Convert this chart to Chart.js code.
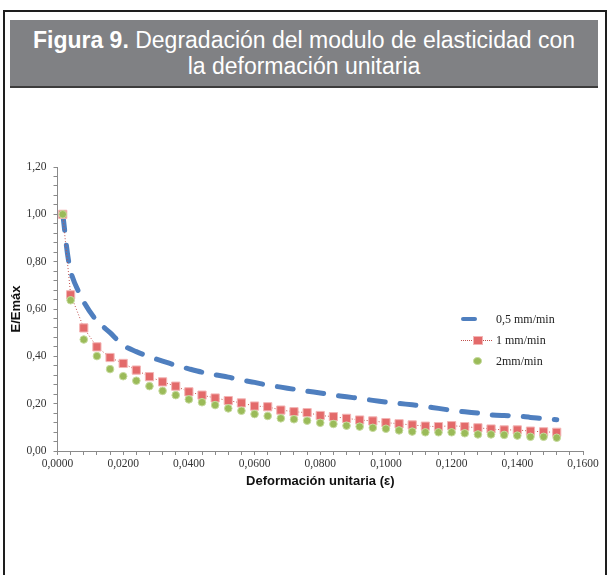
<!DOCTYPE html>
<html>
<head>
<meta charset="utf-8">
<script src="https://cdn.jsdelivr.net/npm/chart.js@4.4.1/dist/chart.umd.min.js"></script>
<style>
  body { margin: 0; background: #fff; }
  #frame { position: absolute; left: 3px; top: 10px; width: 600px; height: 580px;
    border: 2px solid #1e1e1e; border-bottom: none; }
  #title { position: absolute; left: 10px; top: 20px; width: 588px; height: 68px;
    background: #808184; border-bottom: 2px solid #3c3c3c; color: #fff;
    font-family: "Liberation Sans", Arial, sans-serif; font-size: 23px;
    text-align: center; line-height: 26px; padding-top: 7px; box-sizing: border-box; }
  #title b { font-weight: bold; }
  #graph { position: absolute; left: 0; top: 0; }
  #legend { position: absolute; left: 460px; top: 311px;
    font-family: "Liberation Serif", "Times New Roman", serif; font-size: 12px; color: #222; }
  .row { position: relative; height: 21px; }
  .row span.t { position: absolute; left: 36px; top: 1px; white-space: nowrap; }
</style>
</head>
<body>
<div id="frame"></div>
<div id="title"><b>Figura 9.</b> Degradación del modulo de elasticidad con<br>la deformación unitaria</div>
<canvas id="graph" width="608" height="575"></canvas>
<div id="legend">
  <div class="row">
    <span style="position:absolute;left:1px;top:6px;width:16px;height:4px;border-radius:2px;background:#4f7fbf"></span>
    <span class="t">0,5 mm/min</span>
  </div>
  <div class="row">
    <span style="position:absolute;left:1px;top:8px;width:31px;border-top:1px dotted #c0504d"></span>
    <span style="position:absolute;left:13px;top:4px;width:8px;height:7px;background:#e36a6a;border:1px solid #f3b5b5"></span>
    <span class="t">1 mm/min</span>
  </div>
  <div class="row">
    <span style="position:absolute;left:13px;top:4px;width:7px;height:6px;border-radius:50%;background:#9bbb59;border:1px solid #c6da9e"></span>
    <span class="t">2mm/min</span>
  </div>
</div>
<script>
// deformación unitaria (x) de cada punto
const deformacion = [0.0016, 0.004, 0.008, 0.012, 0.016, 0.020, 0.024, 0.028, 0.032, 0.036,
  0.040, 0.044, 0.048, 0.052, 0.056, 0.060, 0.064, 0.068, 0.072, 0.076,
  0.080, 0.084, 0.088, 0.092, 0.096, 0.100, 0.104, 0.108, 0.112, 0.116,
  0.120, 0.124, 0.128, 0.132, 0.136, 0.140, 0.144, 0.148, 0.152];

// E/Emáx para cada velocidad
const serie05 = [1.00, 0.76, 0.63, 0.55, 0.50, 0.447, 0.42, 0.398, 0.38, 0.362,
  0.347, 0.333, 0.322, 0.312, 0.300, 0.290, 0.278, 0.270, 0.261, 0.253,
  0.245, 0.236, 0.229, 0.222, 0.214, 0.207, 0.201, 0.195, 0.188, 0.180,
  0.172, 0.166, 0.160, 0.153, 0.150, 0.148, 0.142, 0.137, 0.132];
const serie1 = [1.00, 0.66, 0.52, 0.44, 0.395, 0.37, 0.342, 0.314, 0.292, 0.274,
  0.250, 0.236, 0.224, 0.213, 0.203, 0.190, 0.187, 0.173, 0.166, 0.162,
  0.150, 0.145, 0.138, 0.131, 0.127, 0.120, 0.115, 0.110, 0.105, 0.103,
  0.107, 0.103, 0.098, 0.093, 0.089, 0.089, 0.084, 0.081, 0.079];
const serie2 = [1.00, 0.637, 0.471, 0.401, 0.346, 0.316, 0.297, 0.274, 0.254, 0.236,
  0.218, 0.206, 0.194, 0.180, 0.170, 0.156, 0.148, 0.138, 0.134, 0.128,
  0.119, 0.114, 0.107, 0.103, 0.098, 0.094, 0.087, 0.082, 0.079, 0.079,
  0.079, 0.075, 0.070, 0.070, 0.068, 0.065, 0.060, 0.060, 0.056];

const xTicks = [0, 0.02, 0.04, 0.06, 0.08, 0.10, 0.12, 0.14, 0.16];
const yTicks = [0, 0.2, 0.4, 0.6, 0.8, 1.0, 1.2];

const puntos = (ys) => ys.map((y, i) => ({ x: deformacion[i], y: y }));
const esMayor = (v, lista) => lista.some(t => Math.abs(t - v) < 1e-6);

const tickFont = { family: '"Liberation Serif", "Times New Roman", serif', size: 11.5 };
const titleFont = { family: '"Liberation Sans", Arial, sans-serif', size: 13, weight: 'bold' };

new Chart(document.getElementById('graph'), {
  type: 'scatter',
  data: {
    datasets: [
      {
        label: '0,5 mm/min',
        data: puntos(serie05),
        showLine: true,
        borderColor: '#4f7fbf',
        borderWidth: 5,
        borderDash: [16, 15],
        borderCapStyle: 'round',
        tension: 0.3,
        pointRadius: 0,
        order: 2,
      },
      {
        label: '1 mm/min',
        data: puntos(serie1),
        showLine: true,
        borderColor: '#c0504d',
        borderWidth: 1,
        borderDash: [1, 2],
        pointStyle: 'rect',
        pointRadius: 5.8,
        pointBackgroundColor: '#e36a6a',
        pointBorderColor: '#f3b5b5',
        pointBorderWidth: 1,
        order: 1,
      },
      {
        label: '2mm/min',
        data: puntos(serie2),
        showLine: false,
        pointStyle: 'circle',
        pointRadius: 3.8,
        pointBackgroundColor: '#9bbb59',
        pointBorderColor: '#c6da9e',
        pointBorderWidth: 1,
        order: 0,
      },
    ],
  },
  options: {
    responsive: false,
    animation: false,
    layout: { padding: { left: 5, top: 167, right: 25, bottom: 82.2 } },
    plugins: { legend: { display: false }, tooltip: { enabled: false } },
    scales: {
      x: {
        type: 'linear',
        min: 0,
        max: 0.16,
        afterFit: (s) => { s.height = 41.8; },
        border: { color: '#8a8a8a', width: 1 },
        grid: { drawOnChartArea: false, tickLength: 4, color: '#8a8a8a' },
        ticks: {
          stepSize: 0.004,
          autoSkip: false,
          maxRotation: 0,
          minRotation: 0,
          padding: 2,
          color: '#333',
          font: tickFont,
          callback: (v) => esMayor(v, xTicks) ? v.toFixed(4).replace('.', ',') : '',
        },
        title: { display: true, text: 'Deformación unitaria (ε)', color: '#111', font: titleFont },
      },
      y: {
        type: 'linear',
        min: 0,
        max: 1.2,
        afterFit: (s) => { s.width = 52.5; },
        border: { color: '#8a8a8a', width: 1 },
        grid: { drawOnChartArea: false, tickLength: 4, color: '#8a8a8a' },
        ticks: {
          stepSize: 0.04,
          autoSkip: false,
          padding: 7,
          color: '#333',
          font: tickFont,
          callback: (v) => esMayor(v, yTicks) ? v.toFixed(2).replace('.', ',') : '',
        },
        title: { display: true, text: 'E/Emáx', color: '#111', font: titleFont },
      },
    },
  },
});
</script>
</body>
</html>
